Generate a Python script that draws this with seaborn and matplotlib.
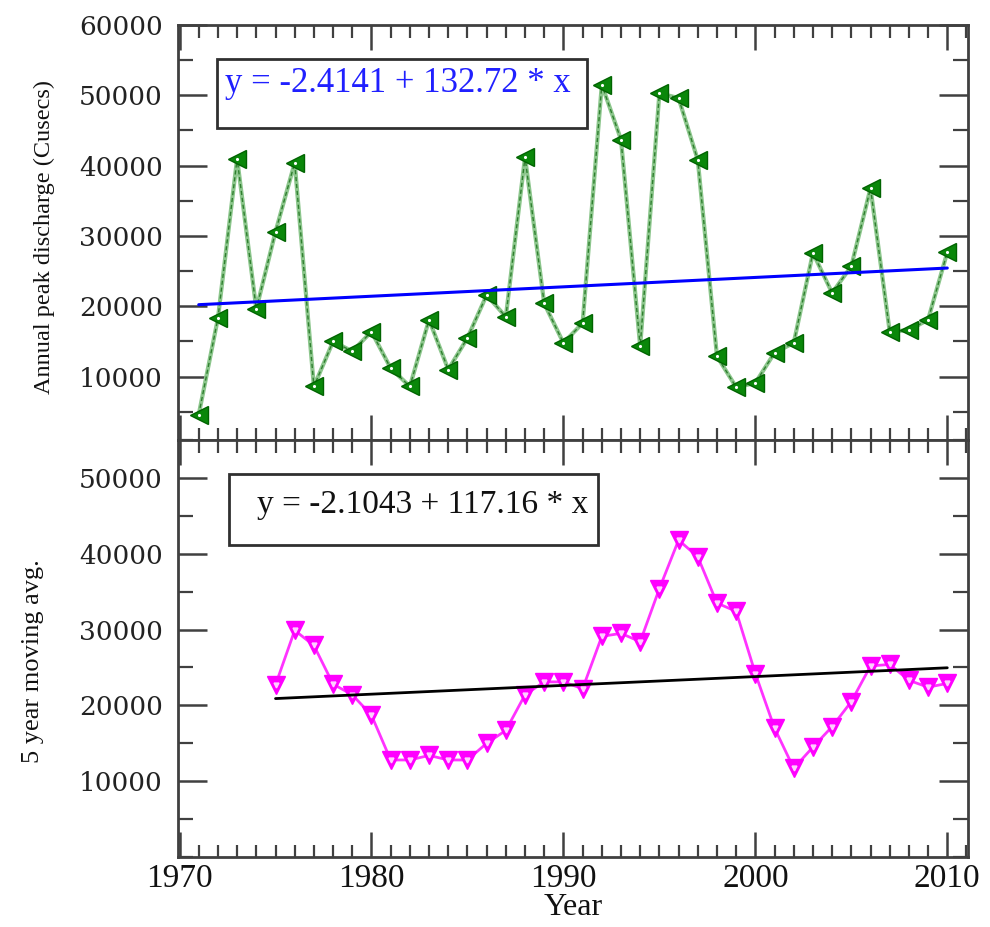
import numpy as np
import pandas as pd
import matplotlib
matplotlib.use("Agg")
import matplotlib.pyplot as plt
from matplotlib.patches import Rectangle
from matplotlib.ticker import MultipleLocator, FixedLocator
import seaborn as sns

# ---------------- data ----------------
years_peak = list(range(1971, 2011))
peak_discharge = [4600, 18300, 41000, 19600, 30600, 40400, 8600, 15000, 13600, 16400,
                  11200, 8600, 18100, 11000, 15500, 21600, 18500, 41200, 20400, 14800,
                  17600, 51500, 43700, 14300, 50300, 49600, 40800, 12900, 8500, 9100,
                  13400, 14800, 27600, 21900, 25700, 36800, 16400, 16600, 18100, 27700]

years_ma = list(range(1975, 2011))
moving_avg = [22700, 29900, 27900, 22800, 21400, 18700, 12800, 12800, 13400, 12800,
              12800, 15000, 16700, 21400, 23100, 23100, 22200, 29100, 29500, 28400,
              35400, 41800, 39600, 33500, 32400, 24200, 17000, 11700, 14500, 17200,
              20500, 25200, 25400, 23300, 22400, 22900]

trend1_years = [1971, 2010]
trend1_vals = [20230, 25440]
trend2_years = [1975, 2010]
trend2_vals = [20900, 24960]

eq1 = "y = -2.4141 + 132.72 * x"
eq2 = "y = -2.1043 + 117.16 * x"

top_yticks = [10000, 20000, 30000, 40000, 50000, 60000]
bot_yticks = [10000, 20000, 30000, 40000, 50000]
xticks = [1970, 1980, 1990, 2000, 2010]

df_peak = pd.DataFrame({"Year": years_peak, "Peak": peak_discharge})
df_ma = pd.DataFrame({"Year": years_ma, "MA": moving_avg})
df_t1 = pd.DataFrame({"Year": trend1_years, "T": trend1_vals})
df_t2 = pd.DataFrame({"Year": trend2_years, "T": trend2_vals})

# ---------------- style ----------------
sns.set_theme(style="white")
plt.rcParams["font.family"] = ["Liberation Serif", "DejaVu Serif"]

fig = plt.figure(figsize=(9.9, 9.27), dpi=100)
ax1 = fig.add_axes([0.1798, 0.5254, 0.798, 0.4477])
ax2 = fig.add_axes([0.1798, 0.0755, 0.798, 0.4498])

frame_col = "#404040"

# top panel
sns.lineplot(data=df_peak, x="Year", y="Peak", ax=ax1, color="#8cc68c", lw=3.0, zorder=2)
sns.lineplot(data=df_peak, x="Year", y="Peak", ax=ax1, color="#2f7f2f", lw=1.0,
             linestyle=(0, (3, 2)), marker="<", markersize=12.5,
             markerfacecolor="#0a870a", markeredgecolor="#006400", markeredgewidth=1.0, zorder=3)
ax1.plot(df_peak["Year"], df_peak["Peak"], ls="none", marker=".", ms=2.5, color="white", zorder=4)
sns.lineplot(data=df_t1, x="Year", y="T", ax=ax1, color="#0000ff", lw=2.2, zorder=5)

# bottom panel
sns.lineplot(data=df_ma, x="Year", y="MA", ax=ax2, color="#ff33ff", lw=2.0,
             marker="v", markersize=12.5, markerfacecolor="#ff00ff",
             markeredgecolor="#ff00ff", markeredgewidth=1.0, zorder=3)
ax2.plot(df_ma["Year"], df_ma["MA"], ls="none", marker="v", ms=3.5, color="#ffd0ff", zorder=4)
sns.lineplot(data=df_t2, x="Year", y="T", ax=ax2, color="black", lw=2.0, zorder=5)

for ax in (ax1, ax2):
    ax.set_xlim(1969.92, 2011.08)
    ax.xaxis.set_major_locator(FixedLocator(xticks))
    ax.xaxis.set_minor_locator(MultipleLocator(1))
    ax.yaxis.set_minor_locator(MultipleLocator(5000))
    ax.tick_params(axis="x", which="major", direction="in", length=18, width=1.8,
                   top=True, bottom=True, color=frame_col)
    ax.tick_params(axis="x", which="minor", direction="in", length=9, width=1.6,
                   top=True, bottom=True, color=frame_col)
    ax.tick_params(axis="y", which="major", direction="in", length=21, width=1.8,
                   left=True, right=True, color=frame_col)
    ax.tick_params(axis="y", which="minor", direction="in", length=11, width=1.6,
                   left=True, right=True, color=frame_col)
    for sp in ax.spines.values():
        sp.set_color(frame_col)
        sp.set_linewidth(2.0)
    ax.set_xlabel("")
    ax.set_ylabel("")

ax1.set_ylim(1000, 60000)
ax1.set_yticks(top_yticks)
ax1.set_xticklabels([])
ax2.set_ylim(0, 55000)
ax2.set_yticks(bot_yticks)
ax2.set_xticks(xticks)
ax2.set_xticklabels([str(v) for v in xticks], fontsize=24, family="Liberation Serif", color="#111111")
ax2.tick_params(axis="x", which="major", pad=5)

for ax, ticks in ((ax1, top_yticks), (ax2, bot_yticks)):
    ax.set_yticklabels([str(v) for v in ticks], fontsize=19, family="DejaVu Serif", color="#222222")
    ax.tick_params(axis="y", which="major", pad=11)

ax1.set_ylabel("Annual peak discharge (Cusecs)", fontsize=17.5, color="#111111",
               family="Liberation Serif")
ax1.yaxis.set_label_coords(-0.156, 0.49)
ax2.set_ylabel("5 year moving avg.", fontsize=19, color="#111111", family="Liberation Serif")
ax2.yaxis.set_label_coords(-0.170, 0.47)
ax2.set_xlabel("Year", fontsize=23, color="#111111", labelpad=-1, family="Liberation Serif")

# equation boxes
ax1.add_patch(Rectangle((0.0494, 0.752), 0.4683, 0.166, transform=ax1.transAxes,
                        fill=False, edgecolor="#303030", lw=2.0, zorder=6))
ax1.text(0.0595, 0.858, eq1, transform=ax1.transAxes, fontsize=25, color="#2020ff",
         va="center", ha="left", zorder=7)
ax2.add_patch(Rectangle((0.0646, 0.748), 0.467, 0.170, transform=ax2.transAxes,
                        fill=False, edgecolor="#303030", lw=2.0, zorder=6))
ax2.text(0.100, 0.846, eq2, transform=ax2.transAxes, fontsize=24, color="#111111",
         va="center", ha="left", zorder=7)

fig.savefig("out.png", dpi=100, facecolor="white")
